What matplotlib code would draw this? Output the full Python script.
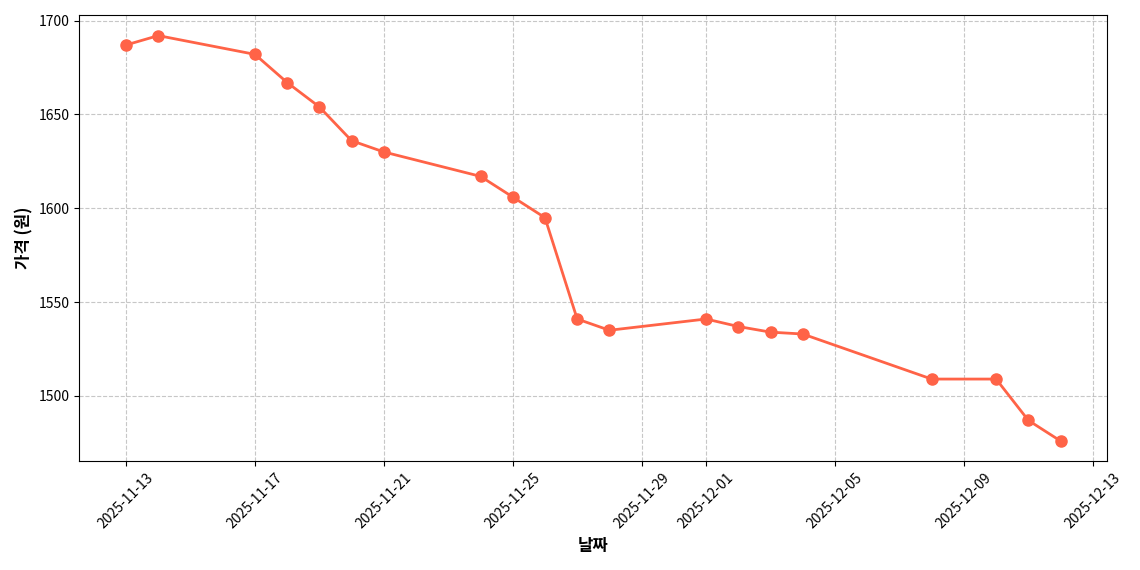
import pandas as pd
import matplotlib.pyplot as plt
import matplotlib.dates as mdates

plt.rcParams['font.family'] = ['Noto Sans CJK KR', 'DejaVu Sans']

# price data
dates = ["2025-11-13", "2025-11-14", "2025-11-17", "2025-11-18", "2025-11-19",
         "2025-11-20", "2025-11-21", "2025-11-24", "2025-11-25", "2025-11-26",
         "2025-11-27", "2025-11-28", "2025-12-01", "2025-12-02", "2025-12-03",
         "2025-12-04", "2025-12-08", "2025-12-10", "2025-12-11", "2025-12-12"]
prices = [1687, 1692, 1682, 1667, 1654, 1636, 1630, 1617, 1606, 1595,
          1541, 1535, 1541, 1537, 1534, 1533, 1509, 1509, 1487, 1476]

x = pd.to_datetime(dates)

fig, ax = plt.subplots(figsize=(11.4, 5.7), dpi=100)
ax.plot(x, prices, color="#FF6347", marker="o", markersize=8, linewidth=2)
ax.set_xlabel("날짜", fontsize=12, fontweight="bold")
ax.set_ylabel("가격 (원)", fontsize=12, fontweight="bold")
ax.grid(True, linestyle="--", alpha=0.7)
ax.xaxis.set_major_locator(mdates.DayLocator(bymonthday=[1, 5, 9, 13, 17, 21, 25, 29]))
ax.xaxis.set_major_formatter(mdates.DateFormatter("%Y-%m-%d"))
plt.xticks(rotation=45)
plt.tight_layout()
plt.savefig("out.png")
